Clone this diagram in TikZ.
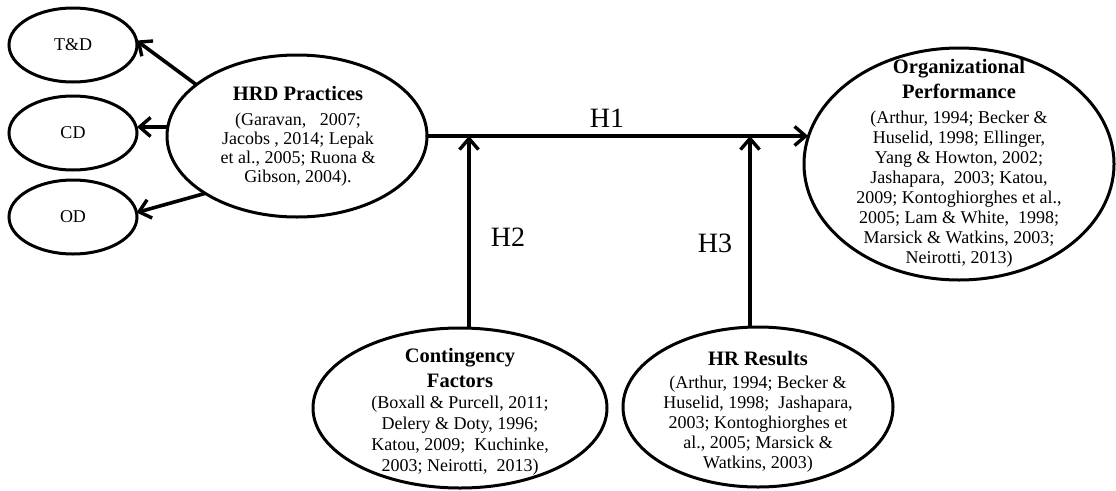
\documentclass[tikz,border=0pt]{standalone}
\usepackage{fontspec}
\setmainfont{Liberation Serif}
\usetikzlibrary{shapes.geometric,arrows.meta}
\newcommand\mytitle{\fontsize{20.5}{24}\selectfont\bfseries}
\begin{document}
\begin{tikzpicture}[x=1pt,y=-1pt,
  oval/.style={draw, ellipse, line width=3pt, inner sep=0pt, outer sep=0pt},
  txt/.style={align=center, inner sep=0pt, font=\fontsize{18}{20}\selectfont},
  conn/.style={line width=3.6pt, -{Straight Barb[length=11pt,width=19pt,line width=3.4pt]}},
  hlab/.style={font=\fontsize{28}{30}\selectfont, inner sep=0pt}]
\useasboundingbox[fill=white] (0,0) rectangle (1116,490);

% small ellipses
\node[oval, minimum width=128pt, minimum height=74pt] (td) at (73,45) {};
\node[txt] (tdt) at (td.center) {T\&D};
\node[oval, minimum width=128pt, minimum height=74pt] (cd) at (73,133) {};
\node[txt] (cdt) at (cd.center) {CD};
\node[oval, minimum width=128pt, minimum height=74pt] (od) at (73,217) {};
\node[txt] (odt) at (od.center) {OD};

% HRD practices
\node[oval, minimum width=260pt, minimum height=162pt] (hrd) at (297,136) {};
\node[txt, font=\fontsize{18}{19}\selectfont] (hrdt) at (298,136)
  {{\mytitle HRD Practices}\\[6pt](Garavan,~~~2007;\\Jacobs , 2014; Lepak\\et al., 2005; Ruona \&\\Gibson, 2004).};

% Organizational performance
\node[oval, minimum width=310pt, minimum height=232pt] (org) at (959,164) {};
\node[txt] (orgt) at (959,163)
  {{\mytitle Organizational}\\[5pt]{\mytitle Performance}\\[5pt](Arthur, 1994; Becker \&\\Huselid, 1998; Ellinger,\\Yang \& Howton, 2002;\\Jashapara,~~2003; Katou,\\2009; Kontoghiorghes et al.,\\2005; Lam \& White,~~1998;\\Marsick \& Watkins, 2003;\\Neirotti, 2013)};

% Contingency factors
\node[oval, minimum width=294pt, minimum height=160pt] (cf) at (460,408) {};
\node[txt, font=\fontsize{18}{21}\selectfont] (cft) at (460,412)
  {{\mytitle Contingency}\\[4pt]{\mytitle Factors}\\(Boxall \& Purcell, 2011;\\Delery \& Doty, 1996;\\Katou, 2009;~~Kuchinke,\\2003; Neirotti,~~2013)};

% HR results
\node[oval, minimum width=270pt, minimum height=160pt] (hr) at (758,407) {};
\node[txt] (hrt) at (758,412)
  {{\mytitle HR Results}\\[3pt](Arthur, 1994; Becker \&\\Huselid, 1998;~~Jashapara,\\2003; Kontoghiorghes et\\al., 2005; Marsick \&\\Watkins, 2003)};

% connectors to T&D, CD, OD
\draw[conn] (hrd.153) -- (td.4);
\draw[conn] (hrd.176.5) -- (hrd.176.5 -| cd.east);
\draw[conn] (hrd.212) -- (od.4);

% H1
\coordinate (j1end) at (hrd.east -| org.170);
\draw[conn] (hrd.east) -- (j1end);

% H2, H3
\coordinate (x2) at (469,0);
\coordinate (x3) at (750,0);
\coordinate (j2) at (hrd.east -| x2);
\coordinate (j3) at (hrd.east -| x3);
\draw[conn] (cf.north -| x2) -- (j2);
\draw[conn] (hr.north -| x3) -- (j3);

\node[hlab] (h1) at (607,118) {H1};
\node[hlab] (h2) at (508,237) {H2};
\node[hlab] (h3) at (715,243) {H3};
\end{tikzpicture}
\end{document}
